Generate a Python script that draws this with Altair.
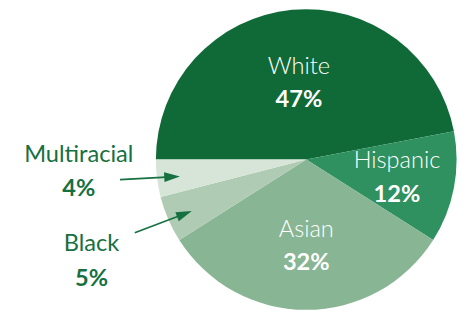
import math
import altair as alt
import pandas as pd

categories = ["White", "Hispanic", "Asian", "Black", "Multiracial"]
shares = [47, 12, 32, 5, 4]
pct_labels = ["47%", "12%", "32%", "5%", "4%"]
slice_colors = ["#0f6a38", "#2f9160", "#88b593", "#b0cbb4", "#d6e5d8"]

df = pd.DataFrame({
    "cat": categories,
    "share": shares,
    "pct": pct_labels,
    "idx": list(range(len(categories))),
})

CX, CY, R = 303.5, 151.5, 153
GREEN = "#16703f"
FONT = "Lato"

theta = alt.Theta("share:Q", stack=True,
                  scale=alt.Scale(range=[1.5 * math.pi, 3.5 * math.pi]))
order = alt.Order("idx:Q")

base = alt.Chart(df)

pie = base.mark_arc(radius=R, strokeWidth=0).encode(
    theta=theta,
    order=order,
    color=alt.Color("cat:N", scale=alt.Scale(domain=categories, range=slice_colors), legend=None),
    x=alt.value(CX), y=alt.value(CY),
)

inner = base.transform_window(
    cum="sum(share)", sort=[alt.SortField("idx")], frame=[None, 0]
).transform_joinaggregate(
    total="sum(share)"
).transform_calculate(
    tm="1.5*PI + 2*PI*(datum.cum - datum.share/2)/datum.total",
    r="datum.cat=='White'?79:datum.cat=='Hispanic'?94:datum.cat=='Asian'?87:0",
).transform_filter(
    "indexof(['White','Hispanic','Asian'], datum.cat) >= 0"
)

inner_names = inner.mark_text(font=FONT, fontSize=24, fontWeight=300, color="white",
                              baseline="alphabetic", dy=-8.5).encode(
    theta=alt.Theta("tm:Q", scale=None, stack=None),
    radius=alt.Radius("r:Q", scale=None),
    text="cat:N", x=alt.value(CX), y=alt.value(CY),
)
inner_pcts = inner.mark_text(font=FONT, fontSize=24, fontWeight="bold", color="white",
                             baseline="alphabetic", dy=25.5).encode(
    theta=alt.Theta("tm:Q", scale=None, stack=None),
    radius=alt.Radius("r:Q", scale=None),
    text="pct:N", x=alt.value(CX), y=alt.value(CY),
)


def outer_label(cat, x, y):
    sub = base.transform_filter(alt.datum.cat == cat)
    name = sub.mark_text(font=FONT, fontSize=24, fontWeight=400, color=GREEN,
                         baseline="alphabetic").encode(
        text="cat:N", x=alt.value(x), y=alt.value(y))
    pct = sub.mark_text(font=FONT, fontSize=24, fontWeight="bold", color=GREEN,
                        baseline="alphabetic").encode(
        text="pct:N", x=alt.value(x), y=alt.value(y + 35))
    return name + pct


ARROW = "M-2,-0.62L0,0L-2,0.62Z"


def arrow(cat, x1, y1, x2, y2, ang):
    sub = base.transform_filter(alt.datum.cat == cat)
    line = sub.mark_rule(color=GREEN, strokeWidth=1.6).encode(
        x=alt.value(x1), y=alt.value(y1), x2=alt.value(x2 - 9 * math.cos(math.radians(ang))),
        y2=alt.value(y2 - 9 * math.sin(math.radians(ang))))
    head = sub.mark_point(shape=ARROW, filled=True, color=GREEN, opacity=1, size=256,
                          angle=ang, strokeWidth=0).encode(
        x=alt.value(x2), y=alt.value(y2))
    return line + head


chart = alt.layer(
    pie, inner_names, inner_pcts,
    outer_label("Multiracial", 72, 154),
    outer_label("Black", 85, 245),
    arrow("Multiracial", 114, 172, 175, 168.7, 357),
    arrow("Black", 129, 226, 187, 204, 339),
).properties(
    width=461, height=304,
    padding=0,
    autosize=alt.AutoSizeParams(type="none"),
).configure_view(stroke=None)

chart.save("out.html", embed_options={"renderer": "svg", "actions": False})
